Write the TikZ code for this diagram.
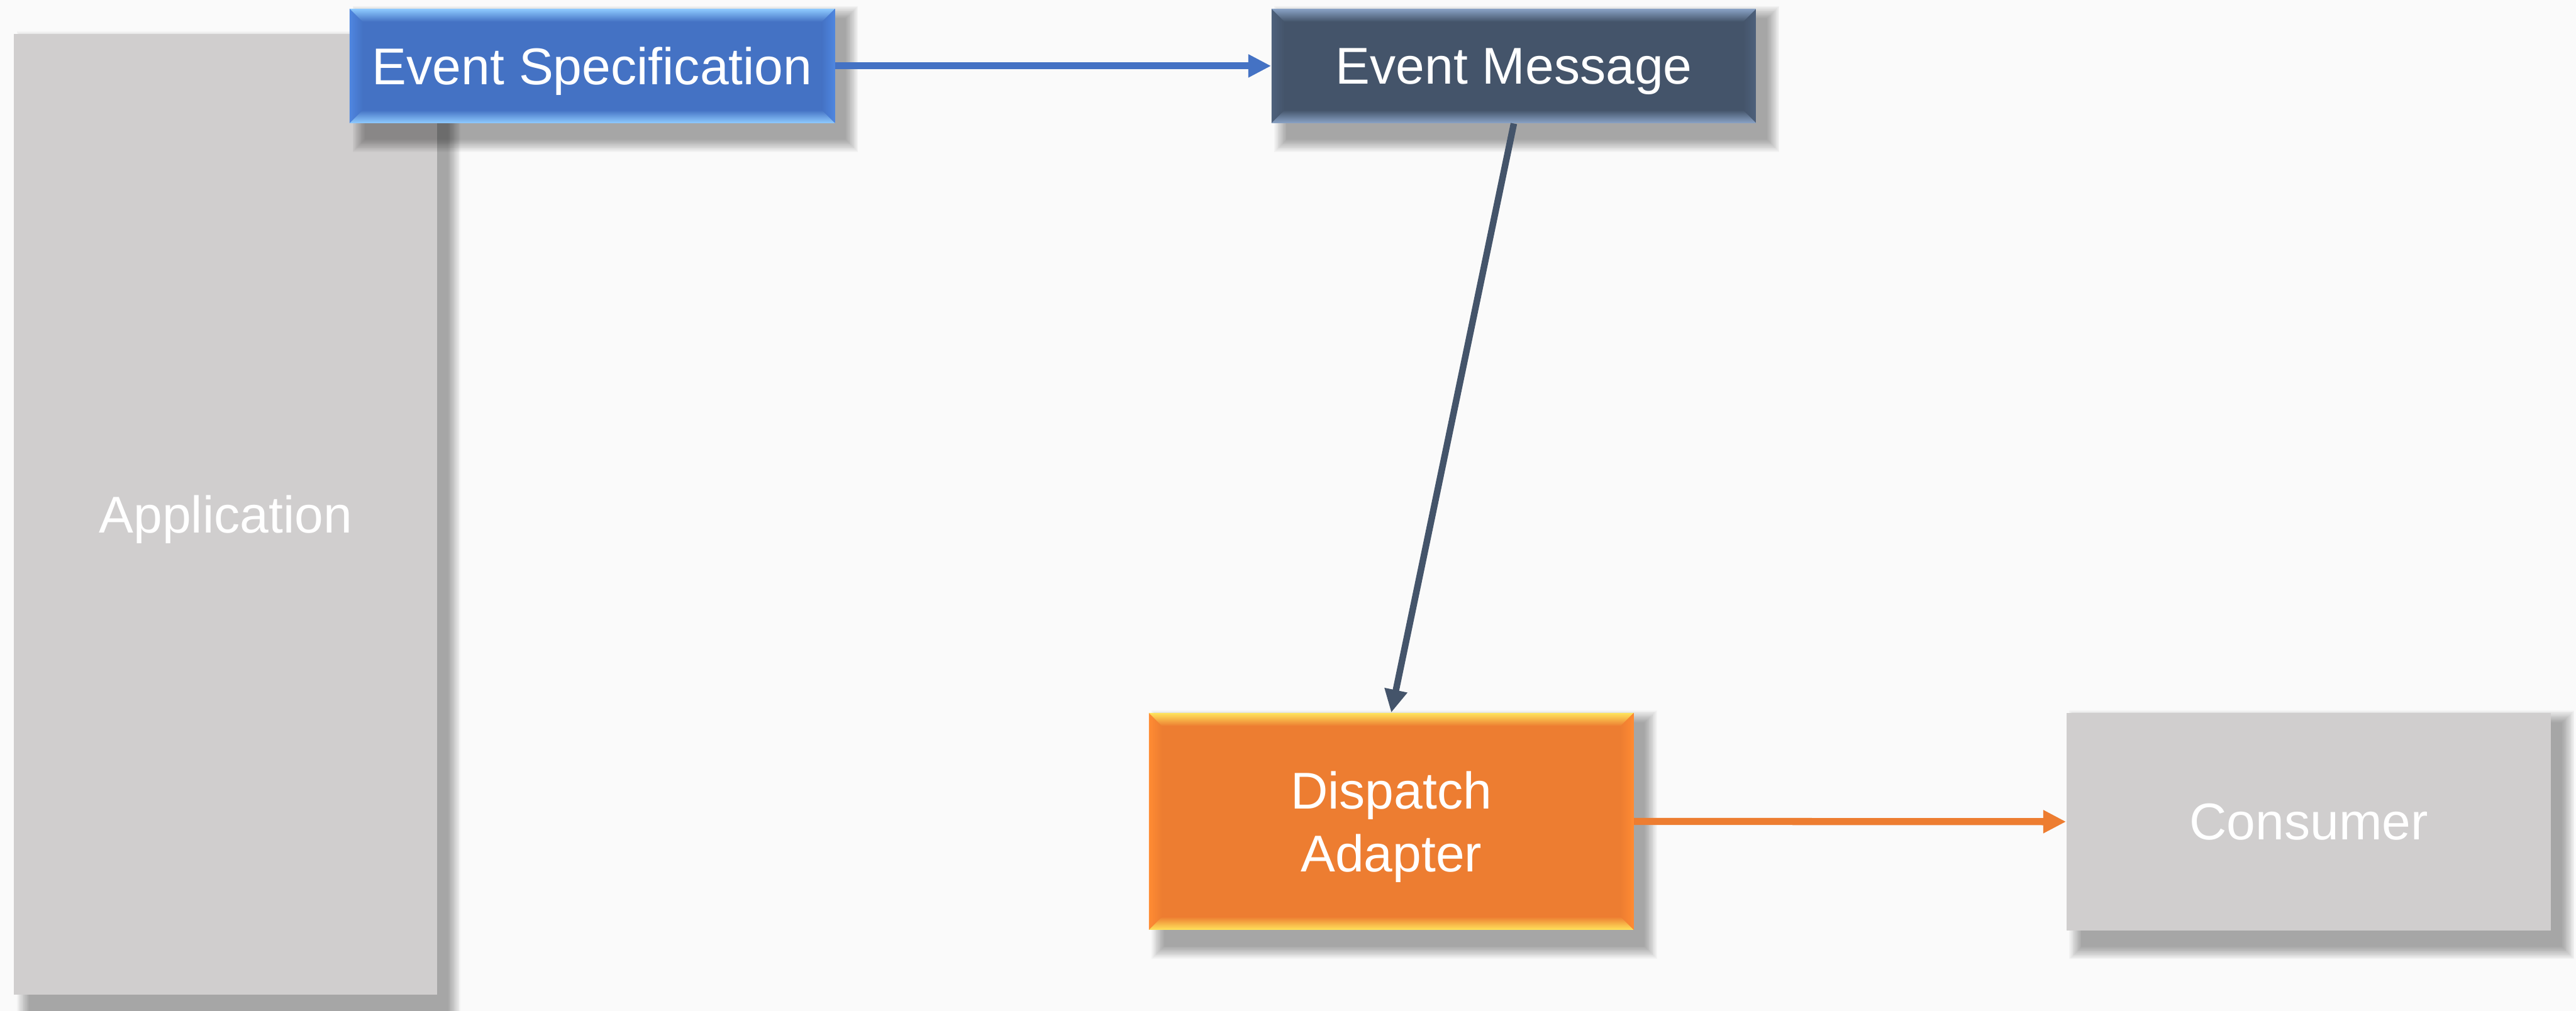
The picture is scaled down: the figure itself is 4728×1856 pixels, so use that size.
\documentclass[tikz,border=0pt]{standalone}
\usepackage{fontspec}
\setmainfont{Liberation Sans}
\usetikzlibrary{arrows.meta,calc}

\definecolor{canvas}{HTML}{FAFAFA}
\definecolor{greybox}{HTML}{D0CECE}
\definecolor{specblue}{HTML}{4472C4}
\definecolor{specblueL}{HTML}{8FCBFF}
\definecolor{specblueM}{HTML}{5B9BFF}
\definecolor{specblueS}{HTML}{4F86E0}
\definecolor{msgslate}{HTML}{44546A}
\definecolor{msgslateL}{HTML}{8AA3C6}
\definecolor{msgslateM}{HTML}{5F7595}
\definecolor{msgslateS}{HTML}{4E617C}
\definecolor{adaptorange}{HTML}{ED7D31}
\definecolor{adaptorangeL}{HTML}{FFE45C}
\definecolor{adaptorangeM}{HTML}{FF9A3A}
\definecolor{adaptorangeS}{HTML}{FF8B33}

\pgfdeclarelayer{canvaslayer}
\pgfdeclarelayer{lowshadow}
\pgfdeclarelayer{lowblock}
\pgfdeclarelayer{shadowlayer}
\pgfsetlayers{canvaslayer,lowshadow,lowblock,shadowlayer,main}

\tikzset{
  block/.style={rectangle, draw=none, inner sep=0pt, text=white, align=center,
    text depth=0pt, font=\fontsize{27}{32.7}\selectfont},
  % base colour, light edge, mid tone, side tone
  bevel/.style n args={4}{fill=#1, path picture={
    \coordinate (bnw) at (path picture bounding box.north west);
    \coordinate (bne) at (path picture bounding box.north east);
    \coordinate (bsw) at (path picture bounding box.south west);
    \coordinate (bse) at (path picture bounding box.south east);
    \shade[left color=#4, right color=#1] (bnw) -- ($(bnw)+(24,24)$) -- ($(bsw)+(24,-24)$) -- (bsw) -- cycle;
    \shade[left color=#1, right color=#4] (bne) -- ($(bne)+(-24,24)$) -- ($(bse)+(-24,-24)$) -- (bse) -- cycle;
    \shade[top color=#2, middle color=#3, bottom color=#1] (bnw) -- (bne) -- ($(bne)+(-24,24)$) -- ($(bnw)+(24,24)$) -- cycle;
    \shade[top color=#1, middle color=#3, bottom color=#2] ($(bsw)+(24,-24)$) -- ($(bse)+(-24,-24)$) -- (bse) -- (bsw) -- cycle;
  }},
  flow/.style={line width=0.13cm, -{Triangle[length=0.42cm,width=0.40cm]}},
}

% soft drop shadow built from stacked translucent rectangles
\newcommand\dropshade[1]{%
  \foreach \k in {0,...,11}{%
    \pgfmathsetmacro\e{24-2*\k}%
    \fill[black, fill opacity=0.03]
      ($(#1.north west)+(30-\e,20-\e)$) rectangle ($(#1.south east)+(18+\e,28+\e)$);
  }}

\begin{document}
\begin{tikzpicture}[x=0.01cm, y=-0.01cm]
  \useasboundingbox (0,0) rectangle (4728,1856);
  \begin{pgfonlayer}{canvaslayer}
    \fill[canvas] (0,0) rectangle (4728,1856);
  \end{pgfonlayer}

  \begin{pgfonlayer}{lowblock}
    \node[block, fill=greybox, minimum width=7.76cm, minimum height=17.62cm]
      (app) at (414,944) {Application};
  \end{pgfonlayer}
  \begin{pgfonlayer}{lowshadow}
    \dropshade{app}
  \end{pgfonlayer}

  \node[block, bevel={specblue}{specblueL}{specblueM}{specblueS},
    minimum width=8.90cm, minimum height=2.10cm]
    (spec) at (1087,121) {Event Specification};
  \node[block, bevel={msgslate}{msgslateL}{msgslateM}{msgslateS},
    minimum width=8.89cm, minimum height=2.10cm]
    (msg) at (2778.5,121) {Event Message};
  \node[block, bevel={adaptorange}{adaptorangeL}{adaptorangeM}{adaptorangeS},
    minimum width=8.89cm, minimum height=3.98cm]
    (disp) at (2553.5,1508) {Dispatch\\Adapter};
  \node[block, fill=greybox, minimum width=8.89cm, minimum height=3.99cm]
    (cons) at (4237.5,1508.5) {Consumer};

  \begin{pgfonlayer}{shadowlayer}
    \dropshade{spec}
    \dropshade{msg}
    \dropshade{disp}
    \dropshade{cons}
  \end{pgfonlayer}

  \draw[flow, specblue] (spec.east) -- (msg.west);
  \draw[flow, msgslate, line width=0.12cm] (msg.south) -- (disp.north);
  \draw[flow, adaptorange] (disp.east) -- (cons.west);
\end{tikzpicture}
\end{document}
